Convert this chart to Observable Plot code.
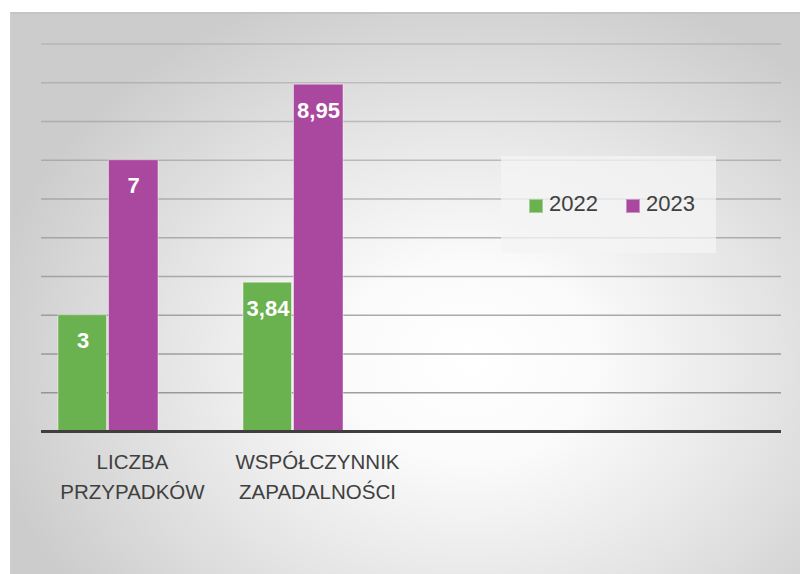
<!DOCTYPE html>
<html>
<head>
<meta charset="utf-8">
<script src="https://cdn.jsdelivr.net/npm/d3@7"></script>
<script src="https://cdn.jsdelivr.net/npm/@observablehq/plot@0.6"></script>
<style>
  html, body { margin: 0; padding: 0; background: #ffffff; width: 800px; height: 574px; overflow: hidden; }
  #wrap {
    position: absolute; left: 10px; top: 12px; width: 790px; height: 562px;
    background: radial-gradient(ellipse 62% 70% at 58% 62%, #ffffff 0%, #fbfbfb 25%, #e6e6e6 60%, #cccccc 100%);
    border-top: 2px solid #c4c4c4; border-left: 1px solid #cfcfcf; box-sizing: border-box;
  }
  #chart { position: absolute; left: -1px; top: -1px; }
  #legend {
    position: absolute; left: 490px; top: 142px; width: 215px; height: 97px;
    background: rgba(244,244,244,0.75);
    font-family: "Liberation Sans", Arial, sans-serif; font-size: 22px; color: #404040;
  }
  .sw { position: absolute; width: 14px; height: 14px; top: 43px; box-sizing: border-box; }
  .lt { position: absolute; top: 36px; line-height: 24px; }
</style>
</head>
<body>
<div id="wrap"><div id="chart"></div><div id="legend"></div></div>
<script>
const categories = ["LICZBA\nPRZYPADKÓW", "WSPÓŁCZYNNIK\nZAPADALNOŚCI", "", " "];
const years = ["2022", "2023"];
const values2022 = [3, 3.84];
const values2023 = [7, 8.95];
const gridValues = [1, 2, 3, 4, 5, 6, 7, 8, 9, 10];
const colors = {"2022": "#6ab14f", "2023": "#a9489e"};

const data2022 = categories.slice(0, 2).map((c, i) => ({cat: c, value: values2022[i]}));
const data2023 = categories.slice(0, 2).map((c, i) => ({cat: c, value: values2023[i]}));
const fmt = v => String(v).replace(".", ",");

const W = 790, H = 562;
const plot = Plot.plot({
  width: W, height: H,
  marginLeft: 31, marginRight: 19, marginTop: 30.5, marginBottom: 144,
  style: {background: "transparent", fontFamily: "'Liberation Sans', Arial, sans-serif", overflow: "visible"},
  x: {domain: categories, padding: 0, label: null},
  y: {domain: [0, 10], label: null},
  opacity: {type: "identity"},
  marks: [
    Plot.ruleY(gridValues, {stroke: "#808080", strokeOpacity: d => 0.8 - d * 0.05, strokeWidth: 1.5}),
    Plot.barY(data2022, {x: "cat", y: "value", fill: colors["2022"], insetLeft: 17, insetRight: 119.5, stroke: "#ffffff", strokeOpacity: 0.45, strokeWidth: 1}),
    Plot.barY(data2023, {x: "cat", y: "value", fill: colors["2023"], insetLeft: 67.5, insetRight: 68, stroke: "#ffffff", strokeOpacity: 0.45, strokeWidth: 1}),
    Plot.text(data2022, {x: "cat", y: "value", text: d => fmt(d.value), dx: -51, dy: 26, fill: "#ffffff", fontSize: 22, fontWeight: "bold"}),
    Plot.text(data2023, {x: "cat", y: "value", text: d => fmt(d.value), dx: -0.5, dy: 26, fill: "#ffffff", fontSize: 22, fontWeight: "bold"}),
    Plot.ruleY([0], {stroke: "#3f3f3f", strokeWidth: 3}),
    Plot.axisX({tickSize: 0, tickPadding: 16, fontSize: 20.5, lineHeight: 1.47, fill: "#404040", dx: -1.5, label: null}),
    Plot.axisY({ticks: [], label: null})
  ]
});
document.getElementById("chart").appendChild(plot);

const legend = document.getElementById("legend");
const pos = [{sw: 28, tx: 48}, {sw: 125, tx: 145}];
years.forEach((y, i) => {
  const s = document.createElement("div");
  s.className = "sw";
  s.style.left = pos[i].sw + "px";
  s.style.background = colors[y];
  s.style.border = "1px solid rgba(255,255,255,0.4)";
  legend.appendChild(s);
  const t = document.createElement("div");
  t.className = "lt";
  t.style.left = pos[i].tx + "px";
  t.textContent = y;
  legend.appendChild(t);
});
</script>
</body>
</html>
